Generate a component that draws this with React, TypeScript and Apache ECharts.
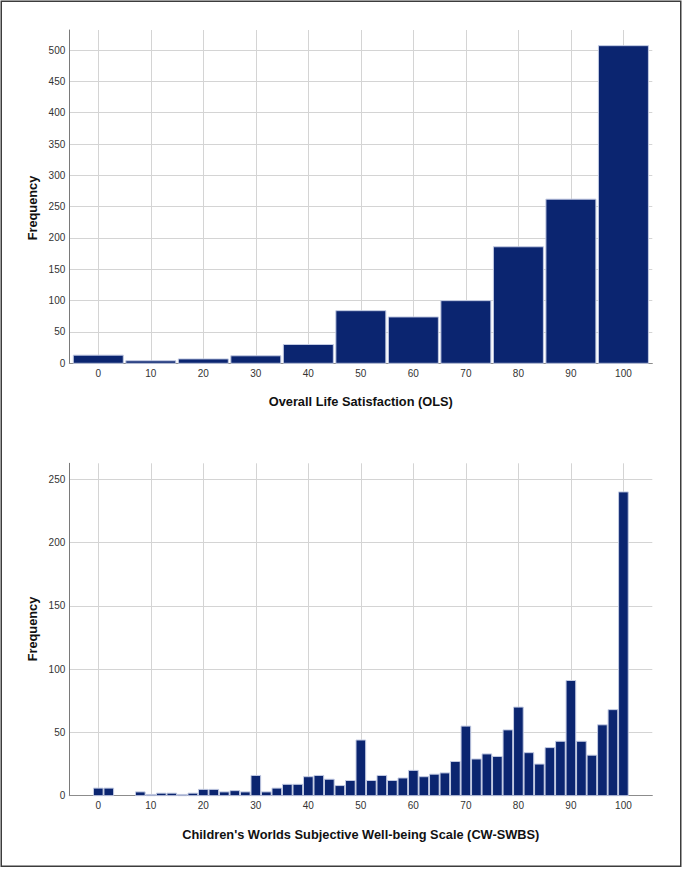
import React, { useEffect, useRef } from "react";
import * as echarts from "echarts";

// Overall Life Satisfaction (OLS) histogram
const olsBins = [0, 10, 20, 30, 40, 50, 60, 70, 80, 90, 100];
const olsFreq = [13, 4, 7, 12, 30, 84, 74, 100, 186, 262, 507];

// Children's Worlds Subjective Well-being Scale (CW-SWBS) histogram
const swbsBins = [
  0, 2, 4, 6, 8, 10, 12, 14, 16, 18, 20, 22, 24, 26, 28, 30, 32, 34, 36, 38, 40,
  42, 44, 46, 48, 50, 52, 54, 56, 58, 60, 62, 64, 66, 68, 70, 72, 74, 76, 78, 80,
  82, 84, 86, 88, 90, 92, 94, 96, 98, 100,
];
const swbsFreq = [
  6, 6, 0, 0, 3, 1, 2, 2, 1, 2, 5, 5, 3, 4, 3, 16, 3, 6, 9, 9, 15,
  16, 13, 8, 12, 44, 12, 16, 12, 14, 20, 15, 17, 18, 27, 55, 29, 33, 31, 52, 70,
  34, 25, 38, 43, 91, 43, 32, 56, 68, 240,
];

const xTicks = [0, 10, 20, 30, 40, 50, 60, 70, 80, 90, 100];
const olsYTicks = [0, 50, 100, 150, 200, 250, 300, 350, 400, 450, 500];
const swbsYTicks = [0, 50, 100, 150, 200, 250];

const olsTitle = "Overall Life Satisfaction (OLS)";
const swbsTitle = "Children's Worlds Subjective Well-being Scale (CW-SWBS)";
const yTitle = "Frequency";

const BAR = "#0b2570";
const BAR_EDGE = "#c3cbe3";
const GRID = "#d4d4d4";
const FONT = "Liberation Sans, Arial, sans-serif";

function makeRender(halfWidth: number) {
  return (params: any, api: any) => {
    const x = api.value(0);
    const y = api.value(1);
    if (!(y > 0)) return null;
    const p0 = api.coord([x - halfWidth, y]);
    const p1 = api.coord([x + halfWidth, 0]);
    return {
      type: "rect",
      shape: { x: p0[0], y: p0[1], width: p1[0] - p0[0], height: p1[1] - p0[1] },
      style: { fill: BAR, stroke: BAR_EDGE, lineWidth: 1 },
    };
  };
}

function xAxisDef(gridIndex: number, name: string) {
  return {
    type: "value",
    gridIndex,
    min: -5.52,
    max: 105.5,
    name,
    nameLocation: "middle",
    nameGap: 32,
    nameTextStyle: { fontFamily: FONT, fontWeight: "bold", fontSize: 12.8, color: "#111" },
    axisLine: { show: true, onZero: false, lineStyle: { color: "#8c8c8c", width: 1 } },
    axisTick: { show: false, customValues: xTicks },
    axisLabel: {
      customValues: xTicks,
      fontFamily: FONT,
      fontSize: 10,
      color: "#333",
      margin: 5,
    },
    splitLine: { show: true, lineStyle: { color: GRID, width: 1 } },
  };
}

function yAxisDef(gridIndex: number, max: number, ticks: number[]) {
  return {
    type: "value",
    gridIndex,
    min: 0,
    max,
    axisLine: { show: true, onZero: false, lineStyle: { color: "#7a7a7a", width: 1 } },
    axisTick: { show: false, customValues: ticks },
    axisLabel: {
      customValues: ticks,
      fontFamily: FONT,
      fontSize: 10,
      color: "#333",
      margin: 4,
    },
    splitLine: { show: true, lineStyle: { color: GRID, width: 1 } },
  };
}

function yTitleText(cy: number) {
  return {
    type: "text",
    x: 32,
    y: cy,
    rotation: Math.PI / 2,
    silent: true,
    style: {
      text: yTitle,
      fontFamily: FONT,
      fontWeight: "bold",
      fontSize: 12.8,
      fill: "#111",
      align: "center",
      verticalAlign: "middle",
    },
  };
}

export default function App() {
  const ref = useRef<HTMLDivElement>(null);

  useEffect(() => {
    if (!ref.current) return;
    const chart = echarts.init(ref.current, undefined, { renderer: "svg" });
    const olsData = olsBins.map((b, i) => [b, olsFreq[i]]);
    const swbsData = swbsBins.map((b, i) => [b, swbsFreq[i]]);
    chart.setOption({
      animation: false,
      backgroundColor: "#ffffff",
      grid: [
        { left: 69.3, top: 30, width: 583, height: 333.3 },
        { left: 69.3, top: 463.3, width: 583, height: 332.4 },
      ],
      xAxis: [xAxisDef(0, olsTitle), xAxisDef(1, swbsTitle)],
      yAxis: [yAxisDef(0, 532, olsYTicks), yAxisDef(1, 262.6, swbsYTicks)],
      series: [
        {
          type: "custom",
          xAxisIndex: 0,
          yAxisIndex: 0,
          renderItem: makeRender(4.76),
          encode: { x: 0, y: 1 },
          data: olsData,
          z: 3,
        },
        {
          type: "custom",
          xAxisIndex: 1,
          yAxisIndex: 1,
          renderItem: makeRender(0.92),
          encode: { x: 0, y: 1 },
          data: swbsData,
          z: 3,
        },
      ],
      graphic: [
        {
          type: "rect",
          shape: { x: 1.25, y: 1.25, width: 679.5, height: 865 },
          style: { fill: "none", stroke: "#3c3c3c", lineWidth: 1.5 },
          silent: true,
        },
        yTitleText(208),
        yTitleText(629),
      ],
    });
    return () => chart.dispose();
  }, []);

  return (
    <div
      ref={ref}
      style={{ position: "absolute", left: 0, top: 0, width: 685, height: 869 }}
    />
  );
}
